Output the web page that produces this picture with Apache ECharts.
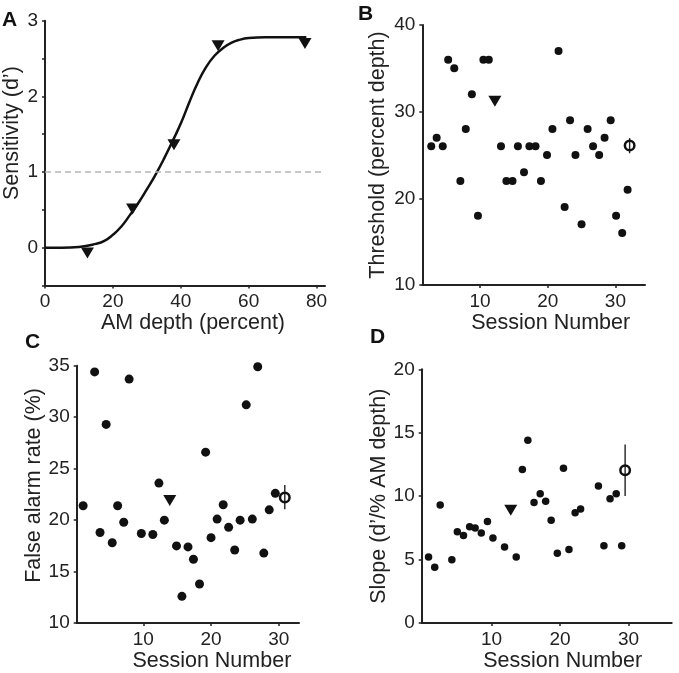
<!DOCTYPE html>
<html>
<head>
<meta charset="utf-8">
<style>html,body{margin:0;padding:0;background:#fff;}#c{width:679px;height:673px;}</style>
<script src="https://cdn.jsdelivr.net/npm/echarts@6/dist/echarts.min.js"></script>
</head>
<body>
<div id="c"></div>
<script>
// ---- Panel A: psychometric function ----
const aPointX = [12.5, 25.8, 38, 51, 76.6];
const aPointY = [-0.07, 0.51, 1.36, 2.67, 2.70];
const aCurveX = [0, 5, 10, 15, 17.5, 20, 22.5, 25, 27.5, 30, 32.5, 35, 37.5, 40, 42.5, 45, 47.5, 50, 52.5, 55, 57.5, 60, 65, 70, 77];
const aCurveY = [0, 0, 0.01, 0.05, 0.09, 0.17, 0.28, 0.43, 0.59, 0.77, 0.96, 1.17, 1.40, 1.64, 1.92, 2.18, 2.39, 2.54, 2.64, 2.71, 2.75, 2.77, 2.78, 2.78, 2.78];
const aCriterion = 1;
const aXTicks = [0, 20, 40, 60, 80];
const aYTicks = [-0.5, 0, 0.5, 1, 1.5, 2, 2.5, 3];
const aYLabels = [0, 1, 2, 3];

// ---- Panel B: threshold ----
const bX = [2.8,3.6,4.5,5.3,6.2,7.1,7.9,8.8,9.7,10.5,11.3,13.1,13.9,14.8,15.6,16.5,17.3,18.2,19.0,19.9,20.7,21.6,22.5,23.3,24.1,25.0,25.9,26.7,27.6,28.4,29.3,30.1,31.0,31.8];
const bY = [26,27,26,36,35,22,28,32,18,36,36,26,22,22,26,23,26,26,22,25,28,37,19,29,25,17,28,26,25,27,29,18,16,21];
const bTriX = [12.2], bTriY = [31.2];
const bMeanX = [32.1], bMeanY = [26.1], bMeanLo = [25.2], bMeanHi = [26.95];
const bXTicks = [10, 20, 30];
const bYTicks = [10, 20, 30, 40];

// ---- Panel C: false alarm rate ----
const cX = [1.1,2.8,3.6,4.5,5.4,6.2,7.1,7.9,9.7,11.4,12.3,13.1,14.9,15.7,16.6,17.4,18.3,19.2,20.0,20.9,21.8,22.6,23.5,24.3,25.2,26.1,26.9,27.8,28.6,29.5];
const cY = [21.4,34.4,18.8,29.3,17.8,21.4,19.8,33.7,18.7,18.6,23.6,20.0,17.5,12.6,17.4,16.2,13.8,26.6,18.3,20.1,21.5,19.3,17.1,20.0,31.2,20.1,34.9,16.8,21.0,22.6];
const cTriX = [13.9], cTriY = [21.9];
const cMeanX = [30.9], cMeanY = [22.2], cMeanLo = [21.06], cMeanHi = [23.41];
const cXTicks = [10, 20, 30];
const cYTicks = [10, 15, 20, 25, 30, 35];

// ---- Panel D: slope ----
const dX = [0.8,1.7,2.5,4.2,5.0,5.9,6.8,7.6,8.5,9.4,10.2,11.9,13.6,14.5,15.3,16.2,17.1,17.9,18.7,19.6,20.5,21.3,22.2,23.0,25.6,26.4,27.3,28.2,29.0];
const dY = [5.2,4.4,9.3,5.0,7.2,6.9,7.6,7.5,7.1,8.0,6.7,6.0,5.2,12.1,14.4,9.5,10.2,9.6,8.1,5.5,12.2,5.8,8.7,9.0,10.8,6.1,9.8,10.2,6.1];
const dTriX = [12.8], dTriY = [8.9];
const dMeanX = [29.5], dMeanY = [12.05], dMeanLo = [10.02], dMeanHi = [14.07];
const dXTicks = [10, 20, 30];
const dYTicks = [0, 5, 10, 15, 20];

// ---- Text ----
const panelLetters = ['A', 'B', 'C', 'D'];
const xTitles = ['AM depth (percent)', 'Session Number', 'Session Number', 'Session Number'];
const yTitles = ["Sensitivity (d’)", 'Threshold (percent depth)', 'False alarm rate (%)', 'Slope (d’/% AM depth)'];

const zip = (xs, ys) => xs.map((x, i) => [x, ys[i]]);
const zip3 = (xs, a, b) => xs.map((x, i) => [x, a[i], b[i]]);

const FONT = 'Liberation Sans, Arial, sans-serif';
const INK = '#222';

function xAxisCfg(idx, min, max, ticks, name, nameShift, nameGap) {
  return {
    type: 'value', gridIndex: idx, min, max,
    name, nameLocation: 'middle', nameGap,
    nameTextStyle: { fontSize: 21.5, fontFamily: FONT, color: INK, padding: [0, 0, 0, nameShift * 2] },
    axisLine: { onZero: false, lineStyle: { color: INK, width: 2 } },
    axisTick: { show: true, length: 3, customValues: ticks, lineStyle: { color: INK, width: 1.5 } },
    axisLabel: { customValues: ticks, fontSize: 19, fontFamily: FONT, color: INK, margin: 7 },
    splitLine: { show: false }
  };
}
function yAxisCfg(idx, min, max, ticks, labels, name, nameShift, nameGap) {
  return {
    type: 'value', gridIndex: idx, min, max,
    name, nameLocation: 'middle', nameGap,
    nameTextStyle: { fontSize: 21.5, fontFamily: FONT, color: INK, padding: [0, 0, 0, nameShift * 2] },
    axisLine: { onZero: false, lineStyle: { color: INK, width: 2 } },
    axisTick: { show: true, length: 3, customValues: ticks, lineStyle: { color: INK, width: 1.5 } },
    axisLabel: { customValues: labels, fontSize: 19, fontFamily: FONT, color: INK, margin: 7 },
    splitLine: { show: false }
  };
}

function dots(idx, xs, ys, size) {
  return { type: 'scatter', xAxisIndex: idx, yAxisIndex: idx, data: zip(xs, ys),
    symbol: 'circle', symbolSize: size, itemStyle: { color: '#111', opacity: 1 }, z: 3 };
}
function tri(idx, xs, ys) {
  return { type: 'scatter', xAxisIndex: idx, yAxisIndex: idx, data: zip(xs, ys),
    symbol: 'triangle', symbolRotate: 180, symbolSize: [13, 11], itemStyle: { color: '#111', opacity: 1 }, z: 4 };
}
function meanCircle(idx, xs, ys) {
  return { type: 'scatter', xAxisIndex: idx, yAxisIndex: idx, data: zip(xs, ys),
    symbol: 'circle', symbolSize: 9.5, itemStyle: { color: 'rgba(0,0,0,0)', borderColor: '#111', borderWidth: 2.5, opacity: 1 }, z: 5 };
}
function errBar(idx, xs, lo, hi) {
  return { type: 'custom', xAxisIndex: idx, yAxisIndex: idx, data: zip3(xs, lo, hi),
    encode: { x: 0, y: [1, 2] }, z: 4,
    renderItem: (params, api) => {
      const p1 = api.coord([api.value(0), api.value(1)]);
      const p2 = api.coord([api.value(0), api.value(2)]);
      return { type: 'line', shape: { x1: p1[0], y1: p1[1], x2: p2[0], y2: p2[1] },
        style: { stroke: '#222', lineWidth: 1.4 } };
    } };
}

const letterPos = [[9.5, 20.5], [365.5, 14], [32.5, 342.5], [377.5, 337.5]];

const option = {
  animation: false,
  backgroundColor: '#fff',
  textStyle: { fontFamily: FONT },
  grid: [
    { left: 45, top: 20.7, width: 280, height: 264.8 },
    { left: 422.3, top: 25, width: 222.7, height: 260 },
    { left: 76.7, top: 365.7, width: 222.3, height: 257.6 },
    { left: 421.7, top: 369.3, width: 250, height: 255.4 }
  ],
  xAxis: [
    xAxisCfg(0, 0, 82.5, aXTicks, xTitles[0], 8, 25),
    xAxisCfg(1, 1.48, 34.37, bXTicks, xTitles[1], 17, 24),
    xAxisCfg(2, 0.15, 33.0, cXTicks, xTitles[2], 24, 24),
    xAxisCfg(3, -0.2, 36.3, dXTicks, xTitles[3], 16, 23)
  ],
  yAxis: [
    yAxisCfg(0, -0.5, 3, aYTicks, aYLabels, yTitles[0], 20, 15.5),
    yAxisCfg(1, 10, 40, bYTicks, bYTicks, yTitles[1], 0, 33.5),
    yAxisCfg(2, 10, 35, cYTicks, cYTicks, yTitles[2], 9, 26),
    yAxisCfg(3, 0, 20, dYTicks, dYTicks, yTitles[3], 0, 30)
  ],
  graphic: panelLetters.map((t, i) => ({
    type: 'text', x: letterPos[i][0], y: letterPos[i][1],
    style: { text: t, fontSize: 21, fontWeight: 'bold', fontFamily: FONT, fill: '#111', align: 'center', verticalAlign: 'middle' }
  })),
  series: [
    { type: 'line', xAxisIndex: 0, yAxisIndex: 0, data: zip(aCurveX, aCurveY),
      smooth: 0.5, showSymbol: false, symbol: 'none',
      lineStyle: { color: '#111', width: 2.5 }, z: 2,
      markLine: { silent: true, symbol: 'none', label: { show: false },
        lineStyle: { color: '#b5b5b5', width: 1.5, type: [6, 4] },
        data: [{ yAxis: aCriterion }] } },
    tri(0, aPointX, aPointY),

    dots(1, bX, bY, 8),
    tri(1, bTriX, bTriY),
    errBar(1, bMeanX, bMeanLo, bMeanHi),
    meanCircle(1, bMeanX, bMeanY),

    dots(2, cX, cY, 9),
    tri(2, cTriX, cTriY),
    errBar(2, cMeanX, cMeanLo, cMeanHi),
    meanCircle(2, cMeanX, cMeanY),

    dots(3, dX, dY, 7.5),
    tri(3, dTriX, dTriY),
    errBar(3, dMeanX, dMeanLo, dMeanHi),
    meanCircle(3, dMeanX, dMeanY)
  ]
};

const chart = echarts.init(document.getElementById('c'), null, { renderer: 'canvas' });
chart.setOption(option);
</script>
</body>
</html>
